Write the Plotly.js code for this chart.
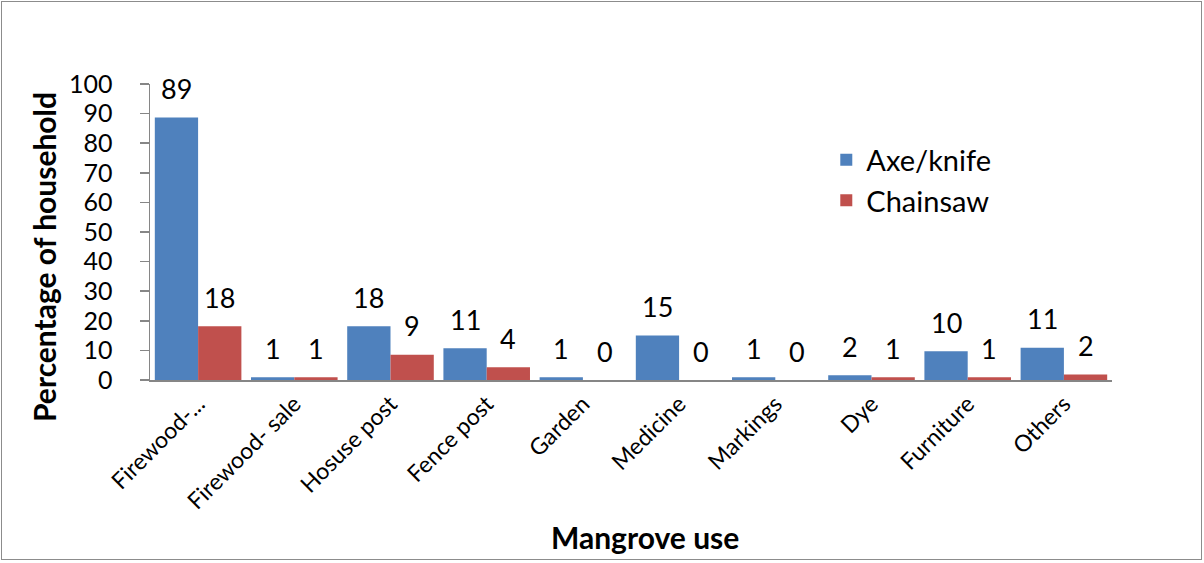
<!DOCTYPE html>
<html>
<head>
<meta charset="utf-8">
<script src="https://cdn.plot.ly/plotly-3.0.1.min.js"></script>
<style>
  html, body { margin: 0; padding: 0; background: #fff; }
  #wrap { position: relative; width: 1204px; height: 563px; }
  #chart { width: 1204px; height: 563px; }
  #frame { position: absolute; left: 1px; top: 1px; width: 1199px; height: 557px; border: 1px solid #8c8c8c; pointer-events: none; }
</style>
</head>
<body>
<div id="wrap"><div id="chart"></div><div id="frame"></div></div>
<script>
var categories = ["Firewood-...", "Firewood- sale", "Hosuse post", "Fence post", "Garden", "Medicine", "Markings", "Dye", "Furniture", "Others"];
var axeKnife = [88.7, 0.9, 18.2, 10.7, 0.9, 15.0, 0.9, 1.6, 9.7, 10.9];
var chainsaw = [18.2, 0.9, 8.5, 4.3, 0, 0, 0, 0.9, 0.9, 1.9];
var seriesNames = ["Axe/knife", "Chainsaw"];
var yTicks = [0, 10, 20, 30, 40, 50, 60, 70, 80, 90, 100];
var xTitle = "Mangrove use";
var yTitle = "Percentage of household";

var FONT = "Lato, 'Open Sans', sans-serif";
var BLUE = "#4F81BD", RED = "#C0504D";

var traces = [
  { type: "bar", name: seriesNames[0], x: categories, y: axeKnife, marker: { color: BLUE }, legendgroup: "a", hoverinfo: "x+y" },
  { type: "bar", name: seriesNames[1], x: categories, y: chainsaw, marker: { color: RED }, legendgroup: "b", hoverinfo: "x+y" }
];

var plotW = 1204 - 150 - 92;
var catW = plotW / categories.length;
var bargap = 0.1;
var barW = catW * (1 - bargap) / 2;

var annotations = [];
[axeKnife, chainsaw].forEach(function (vals, s) {
  vals.forEach(function (v, i) {
    annotations.push({
      x: categories[i], y: v, xref: "x", yref: "y",
      text: String(Math.round(v)), showarrow: false,
      xanchor: "center", yanchor: "middle",
      xshift: (s === 0 ? -1 : 1) * barW / 2, yshift: 29,
      font: { family: FONT, size: 27, color: "#000" }
    });
  });
});
annotations.push({
  text: "<b>" + xTitle + "</b>", xref: "paper", yref: "paper", x: 0.5146, y: -0.530,
  xanchor: "center", yanchor: "middle", showarrow: false,
  font: { family: FONT, size: 30, color: "#000" }
});
annotations.push({
  text: "<b>" + yTitle + "</b>", xref: "paper", yref: "paper", x: -0.1102, y: 0.4155,
  xanchor: "center", yanchor: "middle", showarrow: false, textangle: -90,
  font: { family: FONT, size: 30, color: "#000" }
});

var layout = {
  width: 1204, height: 563,
  margin: { l: 150, r: 92, t: 84, b: 183 },
  paper_bgcolor: "#fff", plot_bgcolor: "#fff",
  barmode: "group", bargap: bargap, bargroupgap: 0,
  showlegend: true,
  legend: {
    x: 0.703, y: 0.83, xanchor: "left", yanchor: "top",
    font: { family: FONT, size: 29, color: "#000" },
    tracegroupgap: 0, bgcolor: "rgba(0,0,0,0)"
  },
  xaxis: {
    type: "category",
    showline: true, linecolor: "#868686", linewidth: 1.5,
    ticks: "", showgrid: false, zeroline: false,
    tickangle: -45,
    tickfont: { family: FONT, size: 23, color: "#000" }
  },
  yaxis: {
    range: [0, 100], tickvals: yTicks, ticktext: yTicks.map(String),
    showline: true, linecolor: "#868686", linewidth: 1.5,
    ticks: "outside", ticklen: 9, tickcolor: "#868686", tickwidth: 1.5,
    ticklabelstandoff: 22,
    showgrid: false, zeroline: false,
    tickfont: { family: FONT, size: 25, color: "#000" }
  },
  annotations: annotations
};

Plotly.newPlot("chart", traces, layout, { displayModeBar: false, staticPlot: true });
</script>
</body>
</html>
